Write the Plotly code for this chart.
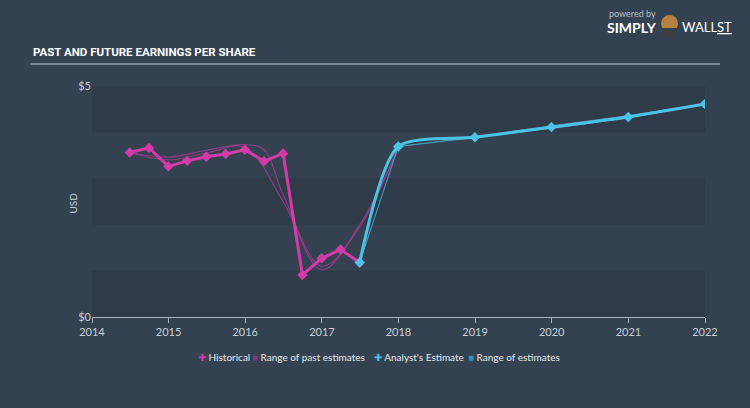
import plotly.graph_objects as go

# ---------------- data ----------------
hist_dates = ["2014-06-30", "2014-09-30", "2014-12-31", "2015-03-31", "2015-06-30",
              "2015-09-30", "2015-12-31", "2016-03-31", "2016-06-30", "2016-09-30",
              "2016-12-31", "2017-03-31", "2017-06-30"]
hist_eps = [3.56, 3.66, 3.26, 3.38, 3.47, 3.53, 3.62, 3.37, 3.54, 0.91, 1.27, 1.46, 1.18]

fut_dates = ["2017-06-30", "2017-12-31", "2018-12-31", "2019-12-31", "2020-12-31", "2021-12-31"]
fut_eps = [1.18, 3.69, 3.89, 4.11, 4.33, 4.61]
fut_low = [1.18, 3.69, 3.88, 4.08, 4.31, 4.61]
fut_high = [1.18, 3.69, 3.90, 4.14, 4.36, 4.61]

past_est_a_dates = ["2014-06-30", "2014-12-31", "2015-06-30", "2015-12-31", "2016-06-30",
                    "2016-12-31", "2017-06-30", "2017-12-31"]
past_est_a = [3.56, 3.40, 3.55, 3.67, 2.50, 1.02, 2.00, 3.65]
past_est_b_dates = ["2014-06-30", "2014-12-31", "2015-06-30", "2015-12-31", "2016-03-31",
                    "2016-06-30", "2016-12-31", "2017-06-30", "2017-12-31"]
past_est_b = [3.56, 3.46, 3.61, 3.73, 3.62, 2.65, 1.10, 1.95, 3.69]

year_ticks = ["2014", "2015", "2016", "2017", "2018", "2019", "2020", "2021", "2022"]

# ---------------- style ----------------
PINK = "#d43ba8"
CYAN = "#4cc3e6"
PAPER = "#344150"
BAND_DARK = "#2f3b49"
TXT = "#c9d0d8"
FONT = "Lato, Noto Sans, sans-serif"

W, H = 750, 408
L, R, T, B = 91.5, 705, 86, 317


def px(x):
    return (x - L) / (R - L)


def py(y):
    return (B - y) / (B - T)


fig = go.Figure()

# past estimate lines
for d, v in [(past_est_a_dates, past_est_a), (past_est_b_dates, past_est_b)]:
    fig.add_trace(go.Scatter(x=d, y=v, mode="lines", line=dict(color="rgba(170,60,150,0.75)", width=1.2,
                                                              shape="spline", smoothing=1.0),
                             showlegend=False, hoverinfo="skip"))

# future range band
fig.add_trace(go.Scatter(x=fut_dates, y=fut_high, mode="lines", line=dict(color="rgba(76,195,230,0.5)", width=1),
                         showlegend=False, hoverinfo="skip"))
fig.add_trace(go.Scatter(x=fut_dates, y=fut_low, mode="lines", line=dict(color="rgba(76,195,230,0.5)", width=1),
                         fill="tonexty", fillcolor="rgba(76,195,230,0.35)", showlegend=False, hoverinfo="skip"))

# historical
fig.add_trace(go.Scatter(x=hist_dates, y=hist_eps, mode="lines+markers",
                         line=dict(color=PINK, width=3),
                         marker=dict(symbol="diamond", size=8, color=PINK),
                         showlegend=False))
# analyst estimate
fig.add_trace(go.Scatter(x=fut_dates, y=fut_eps, mode="lines+markers",
                         line=dict(color=CYAN, width=3, shape="spline", smoothing=0.7),
                         marker=dict(symbol="diamond", size=8, color=CYAN),
                         showlegend=False))

shapes = []
# alternating bands
for lo in [0, 2, 4]:
    shapes.append(dict(type="rect", xref="paper", yref="y", x0=0, x1=1, y0=lo, y1=lo + 1,
                       fillcolor=BAND_DARK, line=dict(width=0), layer="below"))
# title underline
shapes.append(dict(type="line", xref="paper", yref="paper", x0=px(30), x1=px(720), y0=py(64), y1=py(64),
                   line=dict(color="#c3ccd6", width=1.2)))
# logo icon
shapes.append(dict(type="circle", xref="paper", yref="paper", x0=px(661), x1=px(678), y0=py(32), y1=py(15),
                   fillcolor="#b7813f", line=dict(width=0)))
shapes.append(dict(type="rect", xref="paper", yref="paper", x0=px(663), x1=px(676), y0=py(38), y1=py(28),
                   fillcolor="#3b3f46", line=dict(width=0)))

annotations = [
    dict(text="<b>PAST AND FUTURE EARNINGS PER SHARE</b>", x=px(30), y=py(52), xref="paper", yref="paper",
         xanchor="left", yanchor="middle", showarrow=False,
         font=dict(family="Roboto, sans-serif", size=11.5, color="#ffffff")),
    dict(text="powered by", x=px(607), y=py(14), xref="paper", yref="paper", xanchor="left", yanchor="middle",
         showarrow=False, font=dict(family=FONT, size=9, color="#b9c2cc")),
    dict(text="<b>SIMPLY</b>", x=px(605), y=py(27), xref="paper", yref="paper", xanchor="left", yanchor="middle",
         showarrow=False, font=dict(family=FONT, size=14, color="#ffffff")),
    dict(text="WALL<u>ST</u>", x=px(680), y=py(27), xref="paper", yref="paper", xanchor="left", yanchor="middle",
         showarrow=False, font=dict(family=FONT, size=13, color="#ffffff")),
    dict(text="USD", x=px(72), y=py(203), xref="paper", yref="paper", xanchor="center", yanchor="middle",
         textangle=-90, showarrow=False, font=dict(family=FONT, size=10, color=TXT)),
]

# manual legend
leg_y = py(357)
legend_items = [
    (196, f"<span style='color:{PINK}'>✚</span> Historical"),
    (250, "<span style='color:#7d3c78'>■</span> Range of past estimates"),
    (372, f"<span style='color:{CYAN}'>✚</span> Analyst's Estimate"),
    (466, "<span style='color:#3a8fb0'>■</span> Range of estimates"),
]
for x0, t in legend_items:
    annotations.append(dict(text=t, x=px(x0), y=leg_y, xref="paper", yref="paper", xanchor="left",
                            yanchor="middle", showarrow=False,
                            font=dict(family=FONT, size=10, color="#e6eaee")))

fig.update_layout(
    width=W, height=H,
    margin=dict(l=L, r=W - R, t=T, b=H - B),
    paper_bgcolor=PAPER, plot_bgcolor=PAPER,
    showlegend=False,
    shapes=shapes,
    annotations=annotations,
    font=dict(family=FONT, color=TXT),
    xaxis=dict(type="date", range=["2014-01-01", "2022-01-01"],
               tickvals=[f"{y}-01-01" for y in year_ticks], ticktext=year_ticks,
               showgrid=False, zeroline=False, showline=True, linecolor="#a9b4c1", linewidth=1,
               ticks="outside", ticklen=5, tickcolor="#a9b4c1",
               tickfont=dict(family=FONT, size=11, color=TXT)),
    yaxis=dict(range=[0, 5], tickvals=[0, 5], ticktext=["$0", "$5"],
               showgrid=False, zeroline=False, showline=False, ticks="",
               tickfont=dict(family=FONT, size=11, color=TXT)),
)

fig.write_html("out.html")
